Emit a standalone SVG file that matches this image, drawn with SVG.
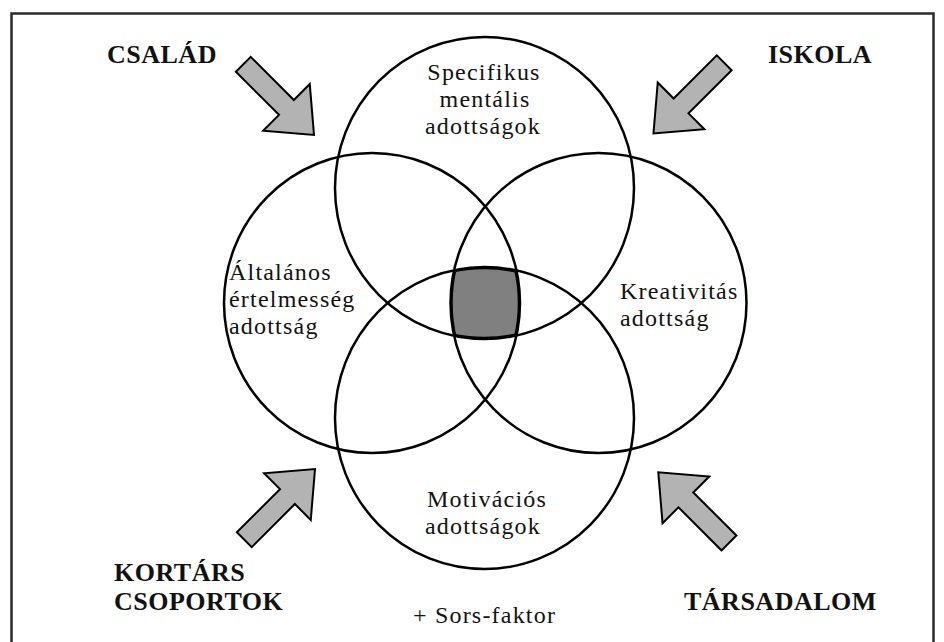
<svg xmlns="http://www.w3.org/2000/svg" xmlns:xlink="http://www.w3.org/1999/xlink" width="944" height="642" viewBox="0 0 944 642">
  <style>
    .ring { fill: none; stroke: #000; stroke-width: 2.5; }
    .core-edge { fill: none; stroke: #000; stroke-width: 4.5; }
    .label { font-family: "Liberation Serif", "Times New Roman", serif; font-size: 24px; letter-spacing: 1.2px; fill: #111; }
    .factor { font-family: "Liberation Serif", "Times New Roman", serif; font-size: 26px; font-weight: bold; letter-spacing: 0.5px; fill: #111; }
    .arrow { fill: #b3b3b3; stroke: #000; stroke-width: 2; stroke-linejoin: miter; }
    .mid { text-anchor: middle; }
  </style>
  <defs>
    <!-- block arrow: tail centre at origin, pointing along +x -->
    <polygon id="blockArrow" points="0,-10.5 61,-10.5 61,-33 100,0 61,33 61,10.5 0,10.5"/>
    <clipPath id="clipTop"><ellipse cx="484.5" cy="188" rx="149.5" ry="151"/></clipPath>
    <clipPath id="clipLeft"><ellipse cx="372" cy="303" rx="148" ry="150"/></clipPath>
    <clipPath id="clipRight"><ellipse cx="598.5" cy="303" rx="148" ry="150"/></clipPath>
    <clipPath id="clipBottom"><ellipse cx="484.5" cy="418" rx="149.5" ry="151"/></clipPath>
  </defs>

  <rect width="944" height="642" fill="#fff"/>
  <!-- frame (open at the bottom) -->
  <path d="M11.5,642 V13.5 H933.5 V642" fill="none" stroke="#2a2a2a" stroke-width="2.5"/>

  <!-- shared core: intersection of all four abilities -->
  <g id="core">
    <g clip-path="url(#clipTop)">
      <g clip-path="url(#clipLeft)">
        <g clip-path="url(#clipRight)">
          <g clip-path="url(#clipBottom)">
            <rect x="400" y="240" width="170" height="130" fill="#808080"/>
            <ellipse class="core-edge" cx="484.5" cy="188" rx="149.5" ry="151"/>
            <ellipse class="core-edge" cx="372" cy="303" rx="148" ry="150"/>
            <ellipse class="core-edge" cx="598.5" cy="303" rx="148" ry="150"/>
            <ellipse class="core-edge" cx="484.5" cy="418" rx="149.5" ry="151"/>
          </g>
        </g>
      </g>
    </g>
  </g>

  <g id="specific">
    <ellipse class="ring" cx="484.5" cy="188" rx="149.5" ry="151"/>
    <text class="label mid" x="484" y="80">Specifikus</text>
    <text class="label mid" x="485" y="107">mentális</text>
    <text class="label mid" x="483" y="134">adottságok</text>
  </g>

  <g id="general">
    <ellipse class="ring" cx="372" cy="303" rx="148" ry="150"/>
    <text class="label" x="229" y="280">Általános</text>
    <text class="label" x="229" y="307">értelmesség</text>
    <text class="label" x="229" y="334">adottság</text>
  </g>

  <g id="creativity">
    <ellipse class="ring" cx="598.5" cy="303" rx="148" ry="150"/>
    <text class="label" x="620" y="299">Kreativitás</text>
    <text class="label" x="620" y="326">adottság</text>
  </g>

  <g id="motivation">
    <ellipse class="ring" cx="484.5" cy="418" rx="149.5" ry="151"/>
    <text class="label mid" x="487" y="507">Motivációs</text>
    <text class="label mid" x="483" y="534">adottságok</text>
  </g>

  <g id="family">
    <text class="factor" x="107" y="63">CSALÁD</text>
  </g>
  <g id="school">
    <text class="factor" x="768" y="63">ISKOLA</text>
  </g>
  <g id="peers">
    <text class="factor" x="114" y="581">KORTÁRS</text>
    <text class="factor" x="114" y="610">CSOPORTOK</text>
  </g>
  <g id="society">
    <text class="factor" x="684" y="610">TÁRSADALOM</text>
  </g>
  <g id="fate">
    <text class="label" x="413" y="623">+ Sors-faktor</text>
  </g>

  <g id="connectors">
    <use xlink:href="#blockArrow" class="arrow" transform="translate(243.3,64.3) rotate(45)"/>
    <use xlink:href="#blockArrow" class="arrow" transform="translate(724.2,62.8) rotate(135)"/>
    <use xlink:href="#blockArrow" class="arrow" transform="translate(244.3,539.7) rotate(-45)"/>
    <use xlink:href="#blockArrow" class="arrow" transform="translate(729,543) rotate(-135)"/>
  </g>
</svg>
